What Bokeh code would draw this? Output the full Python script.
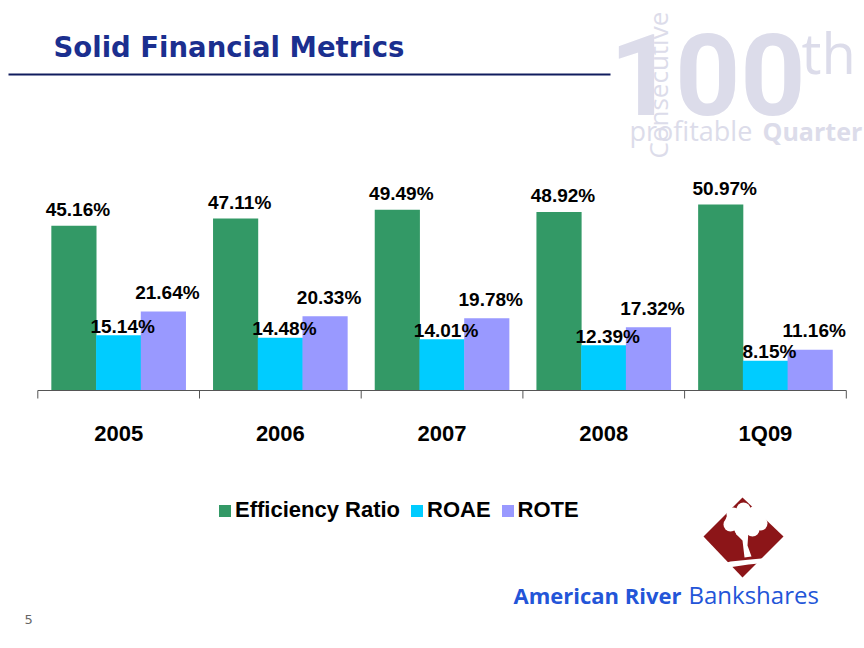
import math
from bokeh.plotting import figure
from bokeh.models import Range1d, Legend, LegendItem, ColumnDataSource
from bokeh.embed import file_html
from bokeh.resources import INLINE
from bokeh.core.properties import value

# ---------------- data ----------------
categories = ["2005", "2006", "2007", "2008", "1Q09"]
efficiency_ratio = [45.16, 47.11, 49.49, 48.92, 50.97]
roae = [15.14, 14.48, 14.01, 12.39, 8.15]
rote = [21.64, 20.33, 19.78, 17.32, 11.16]
series_names = ["Efficiency Ratio", "ROAE", "ROTE"]
series_colors = ["#339966", "#00CCFF", "#9999FF"]

# ---------------- layout ----------------
W, H = 864, 648
PX_PER_CAT = 161.7
PX_PER_PCT = 3.65
X0_REF, Y0_REF = 37.3, 390.0   # where category 0 / 0% sit in page pixels

x_rng = Range1d((0 - X0_REF) / PX_PER_CAT, (W - X0_REF) / PX_PER_CAT)
y_rng = Range1d((Y0_REF - H) / PX_PER_PCT, Y0_REF / PX_PER_PCT)

p = figure(width=W, height=H, output_backend="svg", toolbar_location=None,
           x_range=x_rng, y_range=y_rng, x_axis_type=None, y_axis_type=None,
           min_border=0, outline_line_color=None)
p.grid.visible = False
p.background_fill_color = "white"
p.border_fill_color = "white"
# page-pixel coordinate system for slide decorations
p.extra_x_ranges = {"px": Range1d(0, W)}
p.extra_y_ranges = {"px": Range1d(H, 0)}

ARIAL = "Liberation Sans"

# ---------------- bars ----------------
n = len(categories)
centers = [i + 0.5 for i in range(n)]
bw = 0.2766
series = [efficiency_ratio, roae, rote]
label_dy = [-16, -9, -19]
renderers = []
for k, (vals, col) in enumerate(zip(series, series_colors)):
    xs = [c + (k - 1) * bw for c in centers]
    src = ColumnDataSource(dict(x=xs, top=vals))
    r = p.vbar(x="x", top="top", bottom=0, width=bw * 1.01, source=src,
               fill_color=col, line_color=None)
    renderers.append(r)
for k, vals in enumerate(series):
    xs = [c + (k - 1) * bw for c in centers]
    src = ColumnDataSource(dict(x=xs, y=vals, lab=["%.2f%%" % v for v in vals]))
    p.text(x="x", y="y", text="lab", source=src, x_offset=4, y_offset=label_dy[k],
           text_align="center", text_baseline="alphabetic",
           text_font=value(ARIAL), text_font_style="bold",
           text_font_size="19px", text_color="black")

# ---------------- category axis ----------------
p.segment(x0=[0], y0=[0], x1=[n], y1=[0], line_color="#555555", line_width=1)
p.ray(x=list(range(n + 1)), y=[0] * (n + 1), length=8, length_units="screen",
      angle=-math.pi / 2, line_color="#555555", line_width=1)
p.text(x=centers, y=[0] * n, text=categories, y_offset=43,
       text_align="center", text_baseline="alphabetic",
       text_font=value(ARIAL), text_font_style="bold",
       text_font_size="22px", text_color="black")

# ---------------- legend ----------------
legend = Legend(items=[LegendItem(label=nm, renderers=[r]) for nm, r in zip(series_names, renderers)],
                orientation="horizontal", location=(217, 125),
                glyph_width=15, glyph_height=15, label_standoff=3, spacing=9,
                padding=0, margin=0, border_line_color=None, background_fill_alpha=0,
                label_text_font=ARIAL, label_text_font_style="bold",
                label_text_font_size="22px", label_text_color="black")
p.add_layout(legend)

# ---------------- title ----------------
kw = dict(x_range_name="px", y_range_name="px", text_baseline="alphabetic")
p.text(x=[53], y=[46], text=["Solid Financial Metrics"], text_font=value("DejaVu Sans"),
       text_font_style="bold", text_font_size="27.5px", text_color="#1b2f8f", **kw)
p.segment(x0=[8], y0=[74], x1=[610], y1=[74], line_color="#101c5e", line_width=2,
          x_range_name="px", y_range_name="px")

# ---------------- watermark ----------------
WM = "#dcdcea"
p.text(x=[609], y=[74], text=["100"], text_font=value("Roboto"), text_font_style="bold",
       text_font_size="114px", text_color=WM, **kw)
p.text(x=[801], y=[51], text=["th"], text_font=value("Open Sans"),
       text_font_size="56px", text_color=WM, **kw)
p.text(x=[657], y=[158], text=["Consecutive"], text_font=value("Open Sans"), angle=math.pi / 2,
       text_font_size="26px", text_color=WM, **kw)
p.text(x=[629], y=[130], text=["profitable"], text_font=value("Open Sans"),
       text_font_size="27px", text_color=WM, **kw)
p.text(x=[762], y=[130.5], text=["Quarter"], text_font=value("Open Sans"), text_font_style="bold",
       text_font_size="25px", text_color=WM, **kw)

# ---------------- logo ----------------
pk = dict(x_range_name="px", y_range_name="px")
p.patch(x=[742, 783, 742, 703], y=[497, 536, 577, 536], fill_color="#8c1518", line_color=None, **pk)
p.ellipse(x=[745], y=[520], width=40, height=24, fill_color="white", line_color=None, **pk)
p.circle(x=[733, 743, 755, 730, 760, 741, 752],
         y=[514, 509, 512, 524, 523, 529, 529],
         radius=7, fill_color="white", line_color=None, **pk)
p.patch(x=[741, 748, 747, 751, 744, 742, 736, 735],
        y=[530, 530, 545, 556, 557, 540, 534, 531],
        fill_color="white", line_color=None, **pk)
p.patch(x=[712, 730, 750, 772, 768, 748, 728, 716], y=[566, 561, 559, 557, 562, 564, 567, 570],
        fill_color="white", line_color=None, **pk)

BL = "#2355d8"
p.text(x=[513], y=[594.5], text=["American River"], text_font=value("Open Sans"), text_font_style="bold",
       text_font_size="22px", text_color=BL, **kw)
p.text(x=[688], y=[594], text=["Bankshares"], text_font=value("Open Sans"),
       text_font_size="24px", text_color=BL, **kw)

# ---------------- page number ----------------
p.text(x=[24], y=[619], text=["5"], text_font=value("DejaVu Sans"),
       text_font_size="13px", text_color="#666666", **kw)

open("out.html", "w").write(file_html(p, INLINE))
